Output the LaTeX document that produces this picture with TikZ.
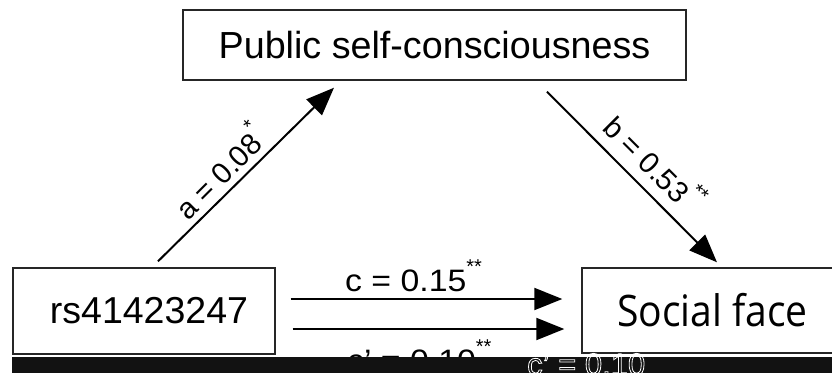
\documentclass[tikz,border=0pt]{standalone}
\usepackage{fontspec}
\setmainfont{Liberation Sans}
\newfontfamily\segoe{Open Sans}
\usetikzlibrary{arrows.meta,calc}
\newcommand\mystars[1]{\raisebox{18pt}{\fontsize{20}{20}\selectfont #1}}
\begin{document}
\begin{tikzpicture}[x=1pt,y=-1pt,
  box/.style={draw=black!85, line width=1.4pt, inner sep=0pt, fill=white},
  arr/.style={line width=2pt, -{Triangle[length=28pt,width=22pt]}},
  lab/.style={font=\fontsize{31}{31}\selectfont, inner sep=0pt},
  dlab/.style={font=\fontsize{29.5}{30}\selectfont, inner sep=0pt}]
\useasboundingbox (0,0) rectangle (832,373);
\node[box, minimum width=503pt, minimum height=70pt, font=\fontsize{37.7}{38}\selectfont] (top) at (434.5,45) {\raisebox{-3pt}{Public self-consciousness}};
\node[box, minimum width=262pt, minimum height=86pt, font=\fontsize{37.5}{38}\selectfont] (left) at (144,311) {\kern10pt\raisebox{-3pt}{rs41423247}};
\node[box, minimum width=258pt, minimum height=85pt, font=\segoe\fontsize{43.4}{44}\selectfont] (right) at (711,310.5) {\kern3pt\scalebox{0.9}[1]{Social face}};
\draw[arr] ($(left.north)+(14,-6)$) -- ($(top.south)+(-100.5,7)$);
\draw[arr] ($(top.south)+(112.5,11)$) -- ($(right.north)+(6,-5)$);
\draw[arr] ($(left.east)+(15,-12)$) -- ($(right.west)+(-19,-11.5)$);
\draw[arr] ($(left.east)+(17,18)$) -- ($(right.west)+(-17,18.5)$);
\node[dlab, anchor=base west, rotate=45] (la) at (188,222) {a = 0.08\mystars{*}};
\node[dlab, anchor=base west, rotate=-45] (lb) at (601,129) {b = 0.53\mystars{**}};
\node[lab, anchor=base west] (lc) at (345,291) {\scalebox{1.09}[1]{c = 0.15}\mystars{**}};
\node[lab, anchor=base west] (lc2) at (347,371) {\scalebox{1.09}[1]{c\char"0027{} = 0.10}\mystars{**}};
\fill[black!93] (12,357) rectangle (832,373);
\node[lab, anchor=base west, text=white] (band) at (527,375) {\special{pdf:code 1 Tr 1 1 1 RG 0.8 w}c\char"0027{} = 0.10\special{pdf:code 0 Tr}};
\end{tikzpicture}
\end{document}
